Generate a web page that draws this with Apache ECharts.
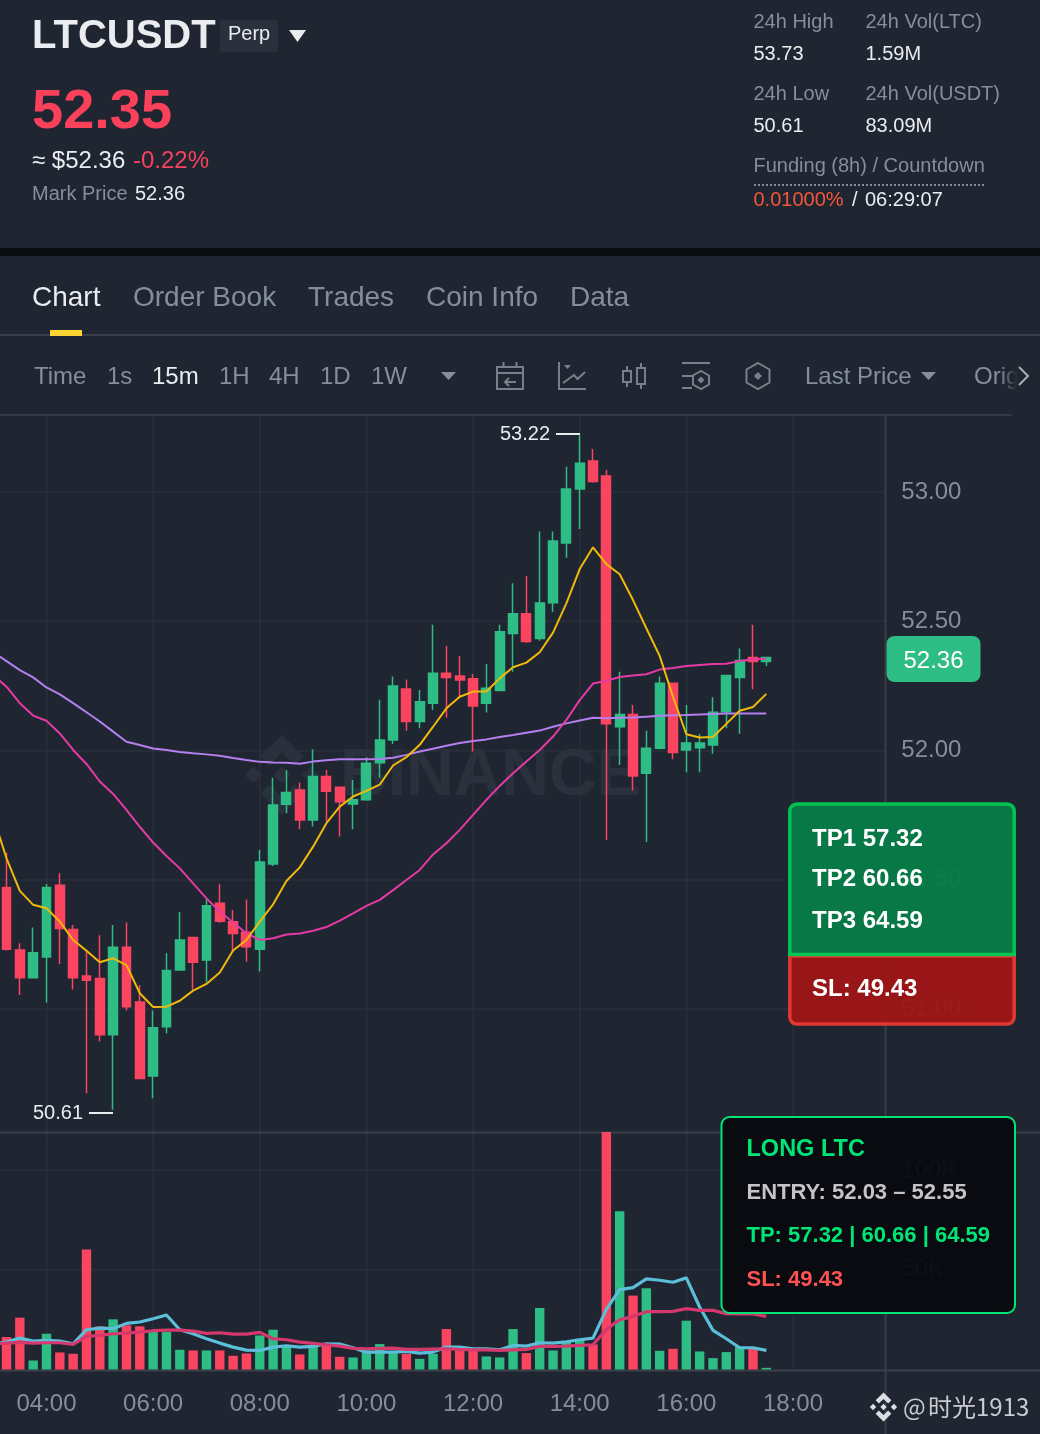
<!DOCTYPE html>
<html>
<head>
<meta charset="utf-8">
<style>html,body{margin:0;padding:0;background:#1f2631;overflow:hidden;width:1040px;height:1434px}#c{position:absolute;left:-7px;top:0;width:1047px;height:1434px}</style>
<script src="https://cdn.jsdelivr.net/npm/echarts@6/dist/echarts.min.js"></script>
</head>
<body>
<div id="c"></div>
<script>
const times = ['03:00','03:15','03:30','03:45','04:00','04:15','04:30','04:45','05:00','05:15','05:30','05:45','06:00','06:15','06:30','06:45','07:00','07:15','07:30','07:45','08:00','08:15','08:30','08:45','09:00','09:15','09:30','09:45','10:00','10:15','10:30','10:45','11:00','11:15','11:30','11:45','12:00','12:15','12:30','12:45','13:00','13:15','13:30','13:45','14:00','14:15','14:30','14:45','15:00','15:15','15:30','15:45','16:00','16:15','16:30','16:45','17:00','17:15','17:30','17:45','18:00','18:15','18:30','18:45','19:00','19:15','19:30','19:45'];
const tops = [null,51.470,51.228,51.218,51.470,51.479,51.308,51.128,51.118,51.239,51.239,51.027,50.927,51.149,51.267,51.277,51.399,51.409,51.338,51.297,51.569,51.789,51.838,51.847,51.899,51.899,51.858,51.809,51.951,52.041,52.250,52.238,52.189,52.299,52.299,52.288,52.278,52.241,52.459,52.529,52.529,52.571,52.810,53.012,53.111,53.120,53.062,52.139,52.139,52.009,52.260,52.260,52.029,52.029,52.148,52.290,52.348,52.360,52.360];
const bottoms = [null,51.231,51.121,51.121,51.201,51.311,51.121,51.111,50.900,50.900,51.009,50.731,50.741,50.931,51.151,51.181,51.190,51.339,51.292,51.241,51.231,51.561,51.792,51.731,51.731,51.842,51.802,51.793,51.809,51.953,52.041,52.112,52.112,52.183,52.282,52.273,52.172,52.183,52.232,52.453,52.422,52.433,52.572,52.803,53.012,53.041,52.103,52.092,51.901,51.912,52.009,51.992,52.002,52.011,52.021,52.150,52.282,52.344,52.344];
const lows = [null,51.226,51.054,51.121,51.025,51.174,51.075,50.674,50.875,50.61,50.994,50.731,50.655,50.905,51.151,51.074,51.103,51.334,51.222,51.183,51.145,51.553,51.757,51.695,51.706,51.725,51.667,51.695,51.806,51.895,52.025,52.076,52.086,52.157,52.127,52.208,51.996,52.147,52.232,52.305,52.417,52.425,52.536,52.746,52.857,53.036,51.654,51.944,51.845,51.646,52.005,51.966,51.916,51.916,51.987,52.086,52.065,52.237,52.327];
const highs = [null,51.605,51.254,51.315,51.484,51.525,51.325,51.222,51.285,51.325,51.335,51.093,50.994,51.216,51.375,51.277,51.428,51.484,51.383,51.424,51.615,51.895,51.925,51.876,52.005,51.925,51.858,51.886,51.974,52.196,52.286,52.275,52.234,52.486,52.404,52.366,52.296,52.335,52.486,52.647,52.675,52.847,52.847,53.098,53.22,53.166,53.085,52.305,52.176,52.076,52.286,52.260,52.176,52.064,52.206,52.290,52.395,52.486,52.360];
const rising = [0,0,0,1,1,0,0,0,0,1,0,0,1,1,1,0,1,0,0,0,1,1,1,0,1,0,0,1,1,1,1,0,1,1,0,0,0,1,1,1,0,1,1,1,1,0,0,1,0,1,1,0,1,1,1,1,1,0,1];
const volumes = [null,16250,25960,4520,17920,8540,7870,60130,21610,25120,22110,21610,18760,18760,9880,9550,9550,9550,6870,8040,17080,19930,12060,7540,11220,12060,6365,6030,9550,12730,8710,7870,5360,7870,20270,10385,9550,6530,6030,20270,8210,30820,9550,14240,15410,12560,119000,79230,37020,40700,9380,10385,24455,9045,5695,8710,11220,10385,840];
const ma7 = [51.744,51.583,51.457,51.403,51.390,51.338,51.267,51.225,51.181,51.196,51.170,51.061,51.008,51.009,51.032,51.071,51.097,51.141,51.226,51.267,51.338,51.405,51.495,51.548,51.628,51.719,51.783,51.822,51.844,51.868,51.942,51.974,52.022,52.092,52.163,52.208,52.228,52.228,52.279,52.322,52.340,52.380,52.456,52.569,52.702,52.786,52.721,52.682,52.582,52.473,52.366,52.208,52.063,52.050,52.052,52.103,52.154,52.168,52.219];
const ma25 = [52.292,52.247,52.183,52.135,52.115,52.066,52.002,51.948,51.880,51.832,51.770,51.705,51.644,51.592,51.544,51.486,51.428,51.377,51.335,51.293,51.267,51.274,51.288,51.292,51.303,51.317,51.342,51.370,51.399,51.422,51.460,51.499,51.538,51.598,51.641,51.693,51.751,51.809,51.863,51.912,51.957,52.002,52.054,52.118,52.195,52.259,52.270,52.284,52.290,52.295,52.313,52.319,52.327,52.331,52.335,52.336,52.346,52.353,52.355];
const ma99 = [52.380,52.346,52.311,52.283,52.244,52.217,52.183,52.148,52.112,52.073,52.034,52.021,52.008,52.002,51.994,51.989,51.985,51.980,51.971,51.963,51.956,51.954,51.953,51.949,51.957,51.962,51.966,51.966,51.966,51.967,51.972,51.983,51.996,52.007,52.018,52.029,52.037,52.043,52.052,52.060,52.069,52.077,52.092,52.105,52.116,52.127,52.125,52.127,52.128,52.131,52.134,52.136,52.137,52.139,52.141,52.143,52.143,52.143,52.143];
const volMa7 = [12900,13735,15745,14240,14570,14240,12900,19930,20770,20435,23115,23785,25460,27300,19930,17920,15410,13230,11220,9715,9550,11220,11890,11220,11560,12900,12730,10890,8710,8710,8710,9045,8210,8710,11220,11220,10385,10385,9880,12060,11725,13400,13230,13900,14910,15745,30150,40030,41040,45390,44720,43720,45900,31320,19600,15410,10890,10890,9550];
const volMa25 = [12900,13230,13570,13230,13400,13400,12560,16580,17085,17920,18260,18760,19430,19765,19765,19260,18090,18425,17755,17755,18590,15410,14910,13735,13065,12395,11725,10550,10385,10550,10720,10050,10050,10220,10385,10050,9880,9880,9550,9880,10050,11560,11560,11725,12060,12395,20100,24960,26630,28980,28980,29145,30485,29650,29650,27970,27805,27805,26630];

const GREEN = '#2ebd85', RED = '#fb4560', GRAY = '#848e9c', WHITE = '#eaecef';
const FONT = '"Liberation Sans", Arial, sans-serif';

function T(text, x, y, size, fill, o) {
  o = o || {};
  return { type: 'text', silent: true, z: o.z == null ? 50 : o.z, style: {
    text: text, x: x, y: y + 1, fill: fill, font: (o.bold ? 'bold ' : '') + size + 'px ' + (o.family || FONT),
    align: o.align || 'left', verticalAlign: 'middle', textAlign: o.align || 'left', textVerticalAlign: 'middle' } };
}
function R(x, y, w, h, fill, o) {
  o = o || {};
  return { type: 'rect', silent: true, z: o.z == null ? 40 : o.z, shape: { x: x, y: y, width: w, height: h, r: o.r || 0 },
    style: { fill: fill, stroke: o.stroke || null, lineWidth: o.lw || 0, opacity: o.opacity == null ? 1 : o.opacity } };
}
function L(x1, y1, x2, y2, stroke, lw, o) {
  o = o || {};
  return { type: 'line', silent: true, z: o.z == null ? 40 : o.z, shape: { x1: x1, y1: y1, x2: x2, y2: y2 },
    style: { stroke: stroke, lineWidth: lw, lineDash: o.dash || null } };
}
function Poly(points, fill, o) {
  o = o || {};
  return { type: 'polygon', silent: true, z: o.z == null ? 40 : o.z, shape: { points: points }, style: { fill: fill } };
}
function PL(points, stroke, lw, o) {
  o = o || {};
  return { type: 'polyline', silent: true, z: o.z == null ? 40 : o.z, shape: { points: points }, style: { stroke: stroke, lineWidth: lw, fill: null } };
}
function outline(points, stroke, lw) {
  return { type: 'polygon', silent: true, z: 40, shape: { points: points }, style: { stroke: stroke, lineWidth: lw, fill: 'transparent' } };
}
function logo(cx, cy, s, fill, z) {
  const u = (a) => a.map(p => [cx + p[0] * s, cy + p[1] * s]);
  return [
    [[0,-.22],[.22,0],[0,.22],[-.22,0]],
    [[-.72,-.22],[-.5,0],[-.72,.22],[-.94,0]],
    [[.72,-.22],[.94,0],[.72,.22],[.5,0]],
    [[0,-1],[.54,-.46],[.32,-.24],[0,-.56],[-.32,-.24],[-.54,-.46]],
    [[0,1],[.54,.46],[.32,.24],[0,.56],[-.32,.24],[-.54,.46]]
  ].map(p => Poly(u(p), fill, { z: z }));
}
function hexagon(cx, cy, rx, ry) {
  return [[cx, cy - ry], [cx + rx, cy - ry / 2], [cx + rx, cy + ry / 2], [cx, cy + ry], [cx - rx, cy + ry / 2], [cx - rx, cy - ry / 2]];
}
const ICON = '#79808c';

const gfx = [
  ...logo(282, 775, 40, '#2a313c', 1),
  T('BINANCE', 340, 776, 66, '#2a313c', { bold: true, z: 1 }),
  T('LTCUSDT', 32, 36, 40, '#eaecef', { bold: true }),
  R(220, 20, 58, 32, '#2a303c', { r: 4 }),
  T('Perp', 228, 33, 20, '#eaecef'),
  Poly([[289,30],[306,30],[297.5,42]], '#eaecef'),
  T('52.35', 32, 112, 56, '#f9415c', { bold: true }),
  T('≈ $52.36', 32, 160, 24, '#eaecef'),
  T('-0.22%', 133, 160, 24, '#f9415c'),
  T('Mark Price', 32, 193, 20, GRAY),
  T('52.36', 135, 193, 20, '#eaecef'),
  T('24h High', 753.5, 21, 20, GRAY), T('53.73', 753.5, 53, 20, WHITE),
  T('24h Vol(LTC)', 865.5, 21, 20, GRAY), T('1.59M', 865.5, 53, 20, WHITE),
  T('24h Low', 753.5, 93, 20, GRAY), T('50.61', 753.5, 125, 20, WHITE),
  T('24h Vol(USDT)', 865.5, 93, 20, GRAY), T('83.09M', 865.5, 125, 20, WHITE),
  T('Funding (8h) / Countdown', 753.5, 165, 20, GRAY),
  L(754, 185, 984, 185, GRAY, 2, { dash: [2, 2] }),
  T('0.01000%', 753.5, 199, 20, '#f4563a'), T('/', 852, 199, 20, WHITE), T('06:29:07', 865, 199, 20, WHITE),
  R(0, 248, 1040, 8, '#0a0d10'),
  T('Chart', 32, 297, 28, '#eaecef'), T('Order Book', 133, 297, 28, GRAY), T('Trades', 308, 297, 28, GRAY),
  T('Coin Info', 426, 297, 28, GRAY), T('Data', 570, 297, 28, GRAY),
  R(0, 334, 1040, 2, '#373d49'),
  R(50, 330, 32, 6, '#fcd535'),
  T('Time', 34, 376, 24, GRAY), T('1s', 107, 376, 24, GRAY), T('15m', 152, 376, 24, '#eaecef'),
  T('1H', 219, 376, 24, GRAY), T('4H', 269, 376, 24, GRAY), T('1D', 320, 376, 24, GRAY), T('1W', 371, 376, 24, GRAY),
  Poly([[441,372],[456,372],[448.5,380]], GRAY),
  R(497, 367, 26, 22, 'transparent', { stroke: ICON, lw: 2 }),
  L(497, 373, 523, 373, ICON, 2), L(503.5, 362, 503.5, 368, ICON, 2), L(516.5, 362, 516.5, 368, ICON, 2),
  L(505, 382, 516, 382, ICON, 2), PL([[509,378],[505,382],[509,386]], ICON, 2),
  PL([[559,362],[559,389],[586,389]], ICON, 2), Poly([[564,365],[571,365],[567.5,369]], ICON),
  PL([[563,383],[574,375],[577.5,379],[585,372]], ICON, 2),
  R(623, 371, 8, 11, 'transparent', { stroke: ICON, lw: 2 }), L(627, 366, 627, 371, ICON, 2), L(627, 382, 627, 387, ICON, 2),
  R(637, 368, 8, 16, 'transparent', { stroke: ICON, lw: 2 }), L(641, 363, 641, 368, ICON, 2), L(641, 384, 641, 389, ICON, 2),
  L(682, 363, 710, 363, ICON, 2), L(682, 376, 692, 376, ICON, 2), L(682, 388, 692, 388, ICON, 2),
  outline(hexagon(701, 380, 8, 9), ICON, 2), Poly([[701,376.5],[704.5,380],[701,383.5],[697.5,380]], ICON),
  outline(hexagon(758, 376, 11.5, 13), ICON, 2), Poly([[758,372],[762,376],[758,380],[754,376]], ICON),
  T('Last Price', 805, 376, 24, GRAY), Poly([[921,372],[936,372],[928.5,380]], GRAY),
  T('Orig', 974, 376, 24, GRAY),
  { type: 'rect', silent: true, z: 51, shape: { x: 1000, y: 362, width: 18, height: 30 }, style: { fill: { type: 'linear', x: 0, y: 0, x2: 1, y2: 0, colorStops: [{ offset: 0, color: 'rgba(31,38,49,0)' }, { offset: 1, color: 'rgba(31,38,49,1)' }] } } },
  PL([[1019,367],[1028,376],[1019,385]], '#a9afb8', 2, { z: 52 }),
  L(0, 415, 1012, 415, '#333945', 2, { z: 3 }),
  L(885.5, 416, 885.5, 1434, '#373d49', 2, { z: 3 }),
  L(0, 1132.5, 1040, 1132.5, '#383e4a', 2, { z: 3 }),
  L(0, 1370.5, 1040, 1370.5, '#3a404c', 2, { z: 3 }),
  T('53.22', 500, 433, 20, '#eaecef'), L(556, 434, 580, 434, '#eaecef', 2),
  T('50.61', 33, 1112, 20, '#eaecef'), L(89, 1113, 113, 1113, '#eaecef', 2),
  R(886.5, 636, 94, 46, '#2ebd85', { r: 8 }),
  T('52.36', 933.5, 660, 24, '#ffffff', { align: 'center' }),
  R(789.8, 804, 224.4, 151, '#077c47', { r: [7, 7, 0, 0], stroke: '#00c853', lw: 3.5, opacity: 0.96, z: 60 }),
  R(789.8, 956, 224.4, 68, '#9d1616', { r: [0, 0, 7, 7], stroke: '#e53935', lw: 3.5, opacity: 0.96, z: 60 }),
  L(788, 954.5, 1016, 954.5, '#00c853', 3.5, { z: 61 }),
  T('TP1 57.32', 812, 838, 24, '#ffffff', { bold: true, z: 62 }),
  T('TP2 60.66', 812, 878, 24, '#ffffff', { bold: true, z: 62 }),
  T('TP3 64.59', 812, 920, 24, '#ffffff', { bold: true, z: 62 }),
  T('SL: 49.43', 812, 988, 24, '#ffffff', { bold: true, z: 62 }),
  R(721.5, 1117, 293.5, 196, 'rgba(8,10,16,0.96)', { r: 8, stroke: '#00e676', lw: 2, z: 60 }),
  T('LONG LTC', 746.5, 1149, 23.5, '#00e676', { bold: true, z: 62 }),
  T('ENTRY: 52.03 – 52.55', 746.5, 1192, 22, '#c4c4c8', { bold: true, z: 62 }),
  T('TP: 57.32 | 60.66 | 64.59', 746.5, 1235, 22, '#00e676', { bold: true, z: 62 }),
  T('SL: 49.43', 746.5, 1279, 22, '#ff5252', { bold: true, z: 62 }),
  ...logo(883.5, 1407, 14.5, '#dcdee1', 50),
  T('@', 903, 1406, 24, '#c9cbce', { family: '"Noto Sans CJK SC", sans-serif' }),
  T('时光1913', 928, 1406, 24, '#c9cbce', { family: '"Noto Sans CJK SC", sans-serif' })
];

const GRID = '#2a303b';
const isLabelled = (idx, val) => { const v = times[idx]; return !!v && v.endsWith(':00') && parseInt(v, 10) % 2 === 0; };

const chart = echarts.init(document.getElementById('c'), null, { renderer: 'canvas', width: 1047, height: 1434 });
chart.setOption({
  animation: false,
  backgroundColor: '#1f2631',
  grid: [
    { left: 0.17, width: 893.11, top: 414.45, height: 723.8 },
    { left: 0.17, width: 893.11, top: 1132, height: 237.5 }
  ],
  xAxis: [
    { type: 'category', gridIndex: 0, data: times, boundaryGap: false,
      axisLine: { show: false }, axisTick: { show: false }, axisLabel: { show: false },
      splitLine: { show: true, interval: isLabelled, lineStyle: { color: GRID, width: 1.5 } } },
    { type: 'category', gridIndex: 1, data: times, boundaryGap: false,
      axisLine: { show: false }, axisTick: { show: false },
      axisLabel: { show: true, interval: isLabelled, color: GRAY, fontSize: 24, fontFamily: FONT, margin: 23 },
      splitLine: { show: true, interval: isLabelled, lineStyle: { color: GRID, width: 1.5 } } }
  ],
  yAxis: [
    { type: 'value', gridIndex: 0, position: 'right', min: 50.5, max: 53.3, interval: 0.5,
      axisLine: { show: false }, axisTick: { show: false },
      axisLabel: { color: GRAY, fontSize: 24, fontFamily: FONT, margin: 15, padding: [4, 0, 0, 0], showMinLabel: false, showMaxLabel: false, formatter: v => v.toFixed(2) },
      splitLine: { show: true, showMinLine: false, showMaxLine: false, lineStyle: { color: GRID, width: 1.5 } } },
    { type: 'value', gridIndex: 1, position: 'right', min: 0, max: 119000, interval: 50000,
      axisLine: { show: false }, axisTick: { show: false },
      axisLabel: { color: GRAY, fontSize: 24, fontFamily: FONT, margin: 15, showMinLabel: false, showMaxLabel: false, formatter: v => (v / 1000) + 'K' },
      splitLine: { show: true, showMinLine: false, showMaxLine: false, lineStyle: { color: GRID, width: 1.5 } } }
  ],
  series: [
    { type: 'candlestick', xAxisIndex: 0, yAxisIndex: 0, barWidth: 9.4, z: 3,
      data: tops.map((t, i) => t == null ? [null, null, null, null] :
        (rising[i] ? [bottoms[i], t, lows[i], highs[i]] : [t, bottoms[i], lows[i], highs[i]])),
      itemStyle: { color: GREEN, color0: RED, borderColor: GREEN, borderColor0: RED, borderWidth: 1.5 } },
    { type: 'line', xAxisIndex: 0, yAxisIndex: 0, data: ma99, showSymbol: false, z: 4, lineStyle: { color: '#b47fee', width: 2 } },
    { type: 'line', xAxisIndex: 0, yAxisIndex: 0, data: ma25, showSymbol: false, z: 4, lineStyle: { color: '#e53aa4', width: 2 } },
    { type: 'line', xAxisIndex: 0, yAxisIndex: 0, data: ma7, showSymbol: false, z: 4, lineStyle: { color: '#f0b90b', width: 2 } },
    { type: 'bar', xAxisIndex: 1, yAxisIndex: 1, barWidth: 9.4, z: 3,
      data: volumes.map((v, i) => v == null ? null : { value: v, itemStyle: { color: rising[i] ? GREEN : RED } }) },
    { type: 'line', xAxisIndex: 1, yAxisIndex: 1, data: volMa7, showSymbol: false, z: 4, lineStyle: { color: '#5bbfd9', width: 3.2 } },
    { type: 'line', xAxisIndex: 1, yAxisIndex: 1, data: volMa25, showSymbol: false, z: 5, lineStyle: { color: '#d5386c', width: 3.2 } }
  ],
  graphic: { elements: [{ type: 'group', x: 7, y: 0, children: gfx }] }
});
</script>
</body>
</html>
